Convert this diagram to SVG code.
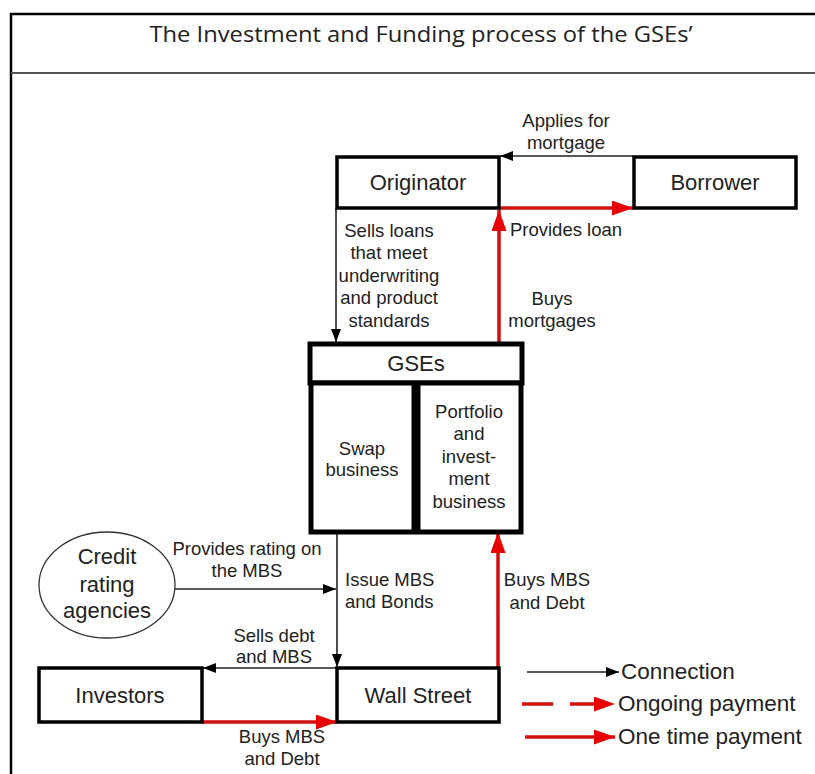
<svg xmlns="http://www.w3.org/2000/svg" width="815" height="774" viewBox="0 0 815 774">
<style>
.box{fill:#fff;stroke:#000;stroke-width:3.5}
.gse{fill:#fff;stroke:#000;stroke-width:5}
.node{font-family:"Liberation Sans",Arial,sans-serif;font-size:22px;fill:#222;text-anchor:middle}
.sub{font-family:"Liberation Sans",Arial,sans-serif;font-size:18.5px;fill:#222;text-anchor:middle}
.lbl{font-family:"Liberation Sans",Arial,sans-serif;font-size:18.5px;fill:#222;text-anchor:middle}
.lbls{font-family:"Liberation Sans",Arial,sans-serif;font-size:18.5px;fill:#222;text-anchor:start}
.leg{font-family:"Liberation Sans",Arial,sans-serif;font-size:22.5px;fill:#222}
.conn{stroke:#222;stroke-width:1.6;fill:none}
.pay{stroke:#d01010;stroke-width:3.5;fill:none}
</style>
<defs>
<marker id="ab" markerUnits="userSpaceOnUse" markerWidth="14" markerHeight="12" refX="13" refY="5" orient="auto">
<path d="M0,0 L13,5 L0,10 z" fill="#000"/>
</marker>
<marker id="ar" markerUnits="userSpaceOnUse" markerWidth="22" markerHeight="16" refX="21" refY="7.5" orient="auto">
<path d="M0,0 L21,7.5 L0,15 z" fill="#e80000"/>
</marker>
</defs>
<rect width="815" height="774" fill="#fff"/>
<g id="frame">
<rect x="11" y="14" width="830" height="790" fill="none" stroke="#000" stroke-width="2.5"/>
<line x1="11" y1="73" x2="815" y2="73" stroke="#555" stroke-width="1.8"/>
<text x="421" y="42" font-family="'Open Sans',Calibri,sans-serif" font-size="22" fill="#222" text-anchor="middle" textLength="543" lengthAdjust="spacingAndGlyphs">The Investment and Funding process of the GSEs’</text>
</g>
<g id="connectors">
<line class="conn" x1="633" y1="156" x2="500" y2="156" marker-end="url(#ab)"/>
<line class="pay" x1="499" y1="208" x2="633" y2="208" marker-end="url(#ar)"/>
<line class="pay" x1="499" y1="343" x2="499" y2="210" marker-end="url(#ar)"/>
<line class="conn" x1="336" y1="208" x2="336" y2="342" marker-end="url(#ab)"/>
<line class="conn" x1="175" y1="589" x2="336" y2="589" marker-end="url(#ab)"/>
<line class="conn" x1="337" y1="532" x2="337" y2="667" marker-end="url(#ab)"/>
<line class="conn" x1="337" y1="668" x2="203" y2="668" marker-end="url(#ab)"/>
<line class="pay" x1="202" y1="722" x2="337" y2="722" marker-end="url(#ar)"/>
<line class="pay" x1="498" y1="668" x2="498" y2="532" marker-end="url(#ar)"/>
</g>
<g id="labels">
<text class="lbl" x="566" y="127">Applies for</text>
<text class="lbl" x="566" y="149">mortgage</text>
<text class="lbl" x="566" y="236">Provides loan</text>
<text class="lbl" x="389" y="237">Sells loans</text>
<text class="lbl" x="389" y="259">that meet</text>
<text class="lbl" x="389" y="282">underwriting</text>
<text class="lbl" x="389" y="304">and product</text>
<text class="lbl" x="389" y="327">standards</text>
<text class="lbl" x="552" y="305">Buys</text>
<text class="lbl" x="552" y="327">mortgages</text>
<text class="lbl" x="247" y="555">Provides rating on</text>
<text class="lbl" x="247" y="577">the MBS</text>
<text class="lbls" x="345" y="586">Issue MBS</text>
<text class="lbls" x="345" y="608">and Bonds</text>
<text class="lbl" x="547" y="586">Buys MBS</text>
<text class="lbl" x="547" y="609">and Debt</text>
<text class="lbl" x="274" y="642">Sells debt</text>
<text class="lbl" x="274" y="663">and MBS</text>
<text class="lbl" x="282" y="743">Buys MBS</text>
<text class="lbl" x="282" y="765">and Debt</text>
</g>
<g id="originator">
<rect class="box" x="337" y="157" width="162" height="51"/>
<text class="node" x="418" y="190">Originator</text>
</g>
<g id="borrower">
<rect class="box" x="634" y="157" width="162" height="51"/>
<text class="node" x="715" y="190">Borrower</text>
</g>
<g id="gses">
<rect class="gse" x="310" y="344" width="212" height="39"/>
<text class="node" x="416" y="371">GSEs</text>
</g>
<g id="swap">
<rect class="gse" x="311" y="383" width="103" height="149"/>
<text class="sub" x="362" y="455">Swap</text>
<text class="sub" x="362" y="476">business</text>
</g>
<g id="portfolio">
<rect class="gse" x="418" y="383" width="103" height="149"/>
<text class="sub" x="469" y="418">Portfolio</text>
<text class="sub" x="469" y="440">and</text>
<text class="sub" x="469" y="463">invest-</text>
<text class="sub" x="469" y="485">ment</text>
<text class="sub" x="469" y="508">business</text>
</g>
<g id="credit">
<ellipse cx="107" cy="585" rx="68" ry="53" fill="#fff" stroke="#333" stroke-width="1.3"/>
<text class="node" x="107" y="564" font-size="23">Credit</text>
<text class="node" x="107" y="592" font-size="23">rating</text>
<text class="node" x="107" y="618" font-size="23">agencies</text>
</g>
<g id="investors">
<rect class="box" x="39" y="668" width="163" height="54"/>
<text class="node" x="120" y="703">Investors</text>
</g>
<g id="wallstreet">
<rect class="box" x="337" y="668" width="162" height="54"/>
<text class="node" x="418" y="703">Wall Street</text>
</g>
<g id="legend">
<line class="conn" x1="527" y1="672" x2="619" y2="672" marker-end="url(#ab)"/>
<text class="leg" x="621" y="679">Connection</text>
<line class="pay" x1="522" y1="704" x2="615" y2="704" stroke-dasharray="31 17" marker-end="url(#ar)"/>
<text class="leg" x="618" y="711">Ongoing payment</text>
<line class="pay" x1="525" y1="737" x2="615" y2="737" marker-end="url(#ar)"/>
<text class="leg" x="618" y="744">One time payment</text>
</g>
</svg>
